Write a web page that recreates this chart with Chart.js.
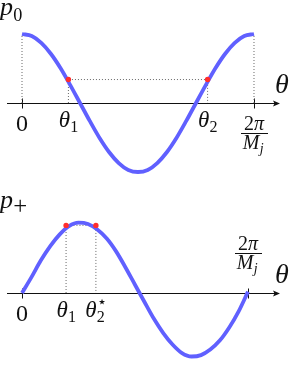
<!DOCTYPE html>
<html>
<head>
<meta charset="utf-8">
<script src="https://cdn.jsdelivr.net/npm/chart.js@4"></script>
<style>
  html, body { margin: 0; padding: 0; background: #fff; }
  .panel { position: relative; width: 291px; }
</style>
</head>
<body>
<div class="panel" style="height:190px"><canvas id="graficoP0"></canvas></div>
<div class="panel" style="height:187px"><canvas id="graficoPmas"></canvas></div>
<script>
// theta measured in units of 2pi/Mj (0 .. 1)
const thetaGrid = [0, 0.042, 0.083, 0.125, 0.167, 0.208, 0.25, 0.292, 0.333, 0.375, 0.417, 0.458,
                   0.5, 0.542, 0.583, 0.625, 0.667, 0.708, 0.75, 0.792, 0.833, 0.875, 0.917, 0.958, 1];

// p0 curve (top panel)
const p0Values = [1, 0.97, 0.87, 0.71, 0.5, 0.26, 0, -0.26, -0.5, -0.71, -0.87, -0.97,
                  -1, -0.97, -0.87, -0.71, -0.5, -0.26, 0, 0.26, 0.5, 0.71, 0.87, 0.97, 1];
const p0MarkTheta = [0.2, 0.8];
const p0MarkValue = 0.34;
const p0TickPos = [0, 0.2, 0.8, 1];
const p0TickLabels = ['0', 'θ_1', 'θ_2', '2π/M_j'];

// p+ curve (bottom panel)
const pMasValues = [0, 0.23, 0.47, 0.68, 0.85, 0.97, 1.02, 1.0, 0.92, 0.79, 0.6, 0.37,
                    0.12, -0.13, -0.37, -0.58, -0.75, -0.87, -0.92, -0.9, -0.82, -0.69, -0.5, -0.27, 0.02];
const pMasMarkTheta = [0.195, 0.327];
const pMasMarkValue = 0.98;
const pMasTickPos = [0, 0.195, 0.327, 1];
const pMasTickLabels = ['0', 'θ_1', 'θ_2^⋆', '2π/M_j'];

const AZUL = 'rgb(96, 96, 255)';
const ROJO = 'rgb(255, 45, 45)';
const GRIS = 'rgb(105, 105, 105)';
const TINTA = '#111';
const SERIF = '"Liberation Serif", "DejaVu Serif", serif';

function esItalica(ch) { return /[A-Za-z\u03b1-\u03c9]/.test(ch); }
function fuente(ch, size) { return (esItalica(ch) ? 'italic ' : '') + size + 'px ' + SERIF; }
function anchoRun(ctx, s, size) {
  let w = 0;
  for (const ch of s) { ctx.font = fuente(ch, size); w += ctx.measureText(ch).width; }
  return w;
}
function dibujaRun(ctx, s, x, base, size) {
  for (const ch of s) { ctx.font = fuente(ch, size); ctx.fillText(ch, x, base); x += ctx.measureText(ch).width; }
  return x;
}
function partes(lab) {
  const m = lab.match(/^([^_^]*)(?:_([^\^]*))?(?:\^(.*))?$/);
  return { main: m[1], sub: m[2] || '', sup: m[3] || '' };
}
function escalaSub(p) { return p.sub === '+' ? 0.95 : 0.7; }
function anchoLabel(ctx, lab, size) {
  const p = partes(lab), s = size * escalaSub(p);
  return anchoRun(ctx, p.main, size) + Math.max(anchoRun(ctx, p.sub, s), anchoRun(ctx, p.sup, s));
}
function dibujaLabel(ctx, lab, x, base, size) {
  const p = partes(lab), s = size * escalaSub(p);
  const xe = dibujaRun(ctx, p.main, x, base, size);
  if (p.sub) dibujaRun(ctx, p.sub, xe + 0.3, base + size * 0.22, s);
  if (p.sup) dibujaRun(ctx, p.sup, xe + 0.3, base - size * 0.42, s);
}
function dibujaFraccion(ctx, lab, cx, yBar, size) {
  const [num, den] = lab.split('/');
  const wn = anchoLabel(ctx, num, size), wd = anchoLabel(ctx, den, size);
  const w = Math.max(wn, wd) + 6;
  dibujaLabel(ctx, num, cx - wn / 2, yBar - 3, size);
  dibujaLabel(ctx, den, cx - wd / 2 - 1, yBar + size * 0.78, size);
  ctx.fillRect(Math.round(cx - w / 2), Math.round(yBar), Math.round(w), 1);
}

function ejePlugin(cfg) {
  return {
    id: 'ejeTheta',
    beforeDatasetsDraw(chart) {
      const { ctx, scales: { x, y } } = chart;
      const y0 = Math.round(y.getPixelForValue(0)) + 0.5;
      const xs = x.getPixelForValue(x.min), xe = x.getPixelForValue(x.max);
      ctx.save();
      ctx.strokeStyle = TINTA; ctx.fillStyle = TINTA; ctx.lineWidth = 1;
      ctx.beginPath(); ctx.moveTo(xs, y0); ctx.lineTo(xe - 3, y0); ctx.stroke();
      ctx.beginPath();
      ctx.moveTo(xe, y0); ctx.lineTo(xe - 7, y0 - 3); ctx.lineTo(xe - 5.5, y0); ctx.lineTo(xe - 7, y0 + 3);
      ctx.closePath(); ctx.fill();
      [0, 1].forEach(t => {
        const px = Math.round(x.getPixelForValue(t)) + 0.5;
        ctx.beginPath(); ctx.moveTo(px, y0 - 5); ctx.lineTo(px, y0 + 5); ctx.stroke();
      });
      ctx.restore();
    },
    afterDraw(chart) {
      const { ctx, scales: { x, y } } = chart;
      const y0 = Math.round(y.getPixelForValue(0));
      const xe = x.getPixelForValue(x.max);
      ctx.save();
      ctx.fillStyle = TINTA;
      ctx.textBaseline = 'alphabetic';
      // y axis name
      dibujaLabel(ctx, cfg.nombre, 0, y0 + cfg.nombreDy, 26);
      // theta at the arrow
      dibujaLabel(ctx, 'θ', xe - 5, y0 - 10, 28);
      cfg.ticks.forEach((t, i) => {
        const lab = cfg.labels[i];
        const px = x.getPixelForValue(t);
        if (lab.includes('/')) {
          dibujaFraccion(ctx, lab, px, y0 + cfg.fracDy, 20);
        } else if (lab === '0') {
          dibujaLabel(ctx, lab, px - anchoLabel(ctx, lab, 24) / 2, y0 + 28, 24);
        } else {
          dibujaLabel(ctx, lab, px - anchoLabel(ctx, lab, 23) / 2, y0 + 24, 23);
        }
      });
      ctx.restore();
    }
  };
}

function crearPanel(id, valores, marcas, valorMarca, guiasExtremos, ejeX, padding, cfg) {
  const curva = thetaGrid.map((t, i) => ({ x: t, y: valores[i] }));
  const puntos = marcas.map(t => ({ x: t, y: valorMarca }));
  const guias = [];
  if (guiasExtremos) {
    guias.push({ x: 0, y: 0 }, { x: 0, y: valores[0] }, { x: 0, y: null });
    guias.push({ x: 1, y: 0 }, { x: 1, y: valores[valores.length - 1] }, { x: 1, y: null });
  }
  guias.push({ x: marcas[0], y: 0 }, { x: marcas[0], y: valorMarca },
             { x: marcas[1], y: valorMarca }, { x: marcas[1], y: 0 });

  const ctx = document.getElementById(id).getContext('2d');
  return new Chart(ctx, {
    type: 'line',
    data: {
      datasets: [
        { data: puntos, showLine: false, pointRadius: 2.7, pointBackgroundColor: ROJO,
          pointBorderWidth: 0, clip: false },
        { data: curva, borderColor: AZUL, borderWidth: 3.8, pointRadius: 0,
          cubicInterpolationMode: 'monotone', borderCapStyle: 'butt', clip: false },
        { data: guias, borderColor: GRIS, borderWidth: 1, borderDash: [1, 2], pointRadius: 0,
          spanGaps: false, clip: false }
      ]
    },
    options: {
      responsive: true,
      maintainAspectRatio: false,
      devicePixelRatio: 1,
      animation: false,
      events: [],
      layout: { padding: padding },
      plugins: { legend: { display: false }, tooltip: { enabled: false } },
      scales: {
        x: { type: 'linear', min: ejeX[0], max: ejeX[1], display: false },
        y: { type: 'linear', min: -1, max: 1, display: false }
      }
    },
    plugins: [ejePlugin(cfg)]
  });
}

crearPanel('graficoP0', p0Values, p0MarkTheta, p0MarkValue, true,
  [-0.0647, 1.1121], { left: 7, right: 11, top: 34, bottom: 18 },
  { nombre: 'p_0', nombreDy: -88, ticks: p0TickPos, labels: p0TickLabels, fracDy: 30 });

crearPanel('graficoPmas', pMasValues, pMasMarkTheta, pMasMarkValue, false,
  [-0.0664, 1.1416], { left: 7, right: 11, top: 34, bottom: 15 },
  { nombre: 'p_+', nombreDy: -85, ticks: pMasTickPos, labels: pMasTickLabels, fracDy: -40 });
</script>
</body>
</html>
